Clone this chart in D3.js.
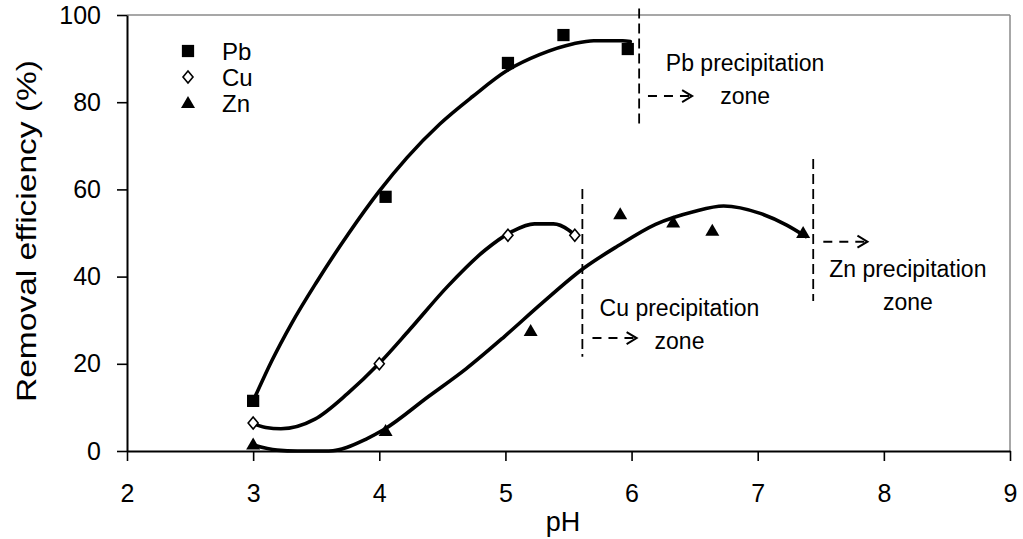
<!DOCTYPE html>
<html>
<head>
<meta charset="utf-8">
<script src="https://cdn.jsdelivr.net/npm/d3@7"></script>
<style>
  html, body { margin: 0; padding: 0; background: #fff; }
  svg { display: block; font-family: "Liberation Sans", Arial, sans-serif; }
</style>
</head>
<body>
<svg id="chart" width="1023" height="539"></svg>
<script>
// Axis ticks
const xTicks = [2, 3, 4, 5, 6, 7, 8, 9];
const yTicks = [0, 20, 40, 60, 80, 100];

// Measured removal efficiency (%) vs pH
const pbPH = [3.0, 4.05, 5.02, 5.46, 5.97];
const pbVal = [11.5, 58.3, 89.0, 95.4, 92.2];
const cuPH = [3.0, 4.0, 5.02, 5.55];
const cuVal = [6.4, 20.0, 49.5, 49.5];
const znPH = [3.0, 4.05, 5.20, 5.91, 6.33, 6.64, 7.36];
const znVal = [1.5, 4.6, 27.5, 54.3, 52.4, 50.5, 50.0];

// Smoothed trend curves (pH, %)
const pbTrend = [[3.01, 12.1], [3.15, 20.8], [3.3, 29.0], [3.5, 38.6], [3.75, 49.6], [4.0, 59.6],
  [4.22, 67.3], [4.48, 75.0], [4.74, 81.3], [5.01, 87.2], [5.27, 90.9], [5.54, 93.4],
  [5.70, 94.1], [5.93, 94.1], [5.99, 93.9]];
const cuTrend = [[3.0, 6.3], [3.1, 5.4], [3.22, 5.1], [3.49, 7.3], [3.75, 13.2], [4.0, 20.1],
  [4.24, 27.8], [4.54, 37.7], [4.84, 46.1], [5.05, 50.3], [5.23, 52.1], [5.38, 52.1],
  [5.50, 50.7], [5.56, 49.2]];
const znTrend = [[3.0, 1.4], [3.19, 0.2], [3.35, 0], [3.6, 0], [3.9, 2.8], [4.03, 4.8],
  [4.39, 12.5], [4.69, 18.9], [4.99, 26.2], [5.29, 33.9], [5.62, 41.9], [5.89, 47.0],
  [6.19, 52.0], [6.49, 54.9], [6.73, 56.2], [7.02, 54.5], [7.23, 51.8], [7.38, 49.2]];

// Precipitation thresholds: pH, dashed span (%), arrow span, label lines
const zoneLabels = ["Pb precipitation", "Cu precipitation", "Zn precipitation"];
const zonePH = [6.06, 5.61, 7.44];
const zoneTop = [101.5, 60.1, 67.0];
const zoneBottom = [74.8, 21.6, 34.4];
const arrowFrom = [6.13, 5.69, 7.52];
const arrowTo = [6.48, 6.04, 7.87];
const arrowVal = [81.4, 25.9, 48.0];
const labelPH = [6.90, 6.38, 8.19];
const labelVal = [87.2, 31.0, 39.8];

const svg = d3.select("#chart");
const x = d3.scaleLinear().domain([2, 9]).range([127, 1010]);
const y = d3.scaleLinear().domain([0, 100]).range([451, 15]);

// Frame: grey top and right edges
svg.append("line").attr("x1", x(2)).attr("x2", x(9)).attr("y1", y(100)).attr("y2", y(100))
  .attr("stroke", "#8a8a8a").attr("stroke-width", 1.5);
svg.append("line").attr("x1", x(9)).attr("x2", x(9)).attr("y1", y(100)).attr("y2", y(0))
  .attr("stroke", "#8a8a8a").attr("stroke-width", 1.5);

// Axes
const xAxis = svg.append("g").attr("transform", `translate(0,${y(0)})`)
  .call(d3.axisBottom(x).tickValues(xTicks).tickSize(10).tickSizeOuter(0).tickFormat(d3.format("d")));
const yAxis = svg.append("g").attr("transform", `translate(${x(2)},0)`)
  .call(d3.axisLeft(y).tickValues(yTicks).tickSize(10).tickPadding(16).tickSizeOuter(0).tickFormat(d3.format("d")));
[xAxis, yAxis].forEach(a => {
  a.select(".domain").attr("stroke", "#000").attr("stroke-width", 2);
  a.selectAll(".tick line").attr("stroke", "#000").attr("stroke-width", 1.6);
  a.selectAll(".tick text").attr("fill", "#000").attr("font-size", 25)
    .attr("font-family", "Liberation Sans, Arial, sans-serif");
});
xAxis.selectAll(".tick text").attr("dy", "0.71em").attr("y", 33);

// Axis titles
svg.append("text").attr("x", 563).attr("y", 531).attr("text-anchor", "middle")
  .attr("font-size", 27).text("pH");
svg.append("text").attr("transform", `translate(36,231) rotate(-90)`)
  .attr("text-anchor", "middle").attr("font-size", 27)
  .attr("textLength", 342).attr("lengthAdjust", "spacingAndGlyphs")
  .text("Removal efficiency (%)");

// Trend curves
const line = d3.line().x(d => x(d[0])).y(d => y(d[1])).curve(d3.curveMonotoneX);
[pbTrend, cuTrend, znTrend].forEach(t => {
  svg.append("path").attr("d", line(t)).attr("fill", "none").attr("stroke", "#000")
    .attr("stroke-width", 3.6).attr("stroke-linejoin", "round").attr("stroke-linecap", "round");
});

// Markers
const square = d3.symbol().type(d3.symbolSquare).size(150);
const diamond = "M0,-6L5,0L0,6L-5,0Z";
const tri = "M0,-7L7,5L-7,5Z";
pbPH.forEach((p, i) => svg.append("path").attr("d", square())
  .attr("transform", `translate(${x(p)},${y(pbVal[i])})`).attr("fill", "#000"));
cuPH.forEach((p, i) => svg.append("path").attr("d", diamond)
  .attr("transform", `translate(${x(p)},${y(cuVal[i])})`).attr("fill", "#fff").attr("stroke", "#000").attr("stroke-width", 1.6));
znPH.forEach((p, i) => svg.append("path").attr("d", tri)
  .attr("transform", `translate(${x(p)},${y(znVal[i])})`).attr("fill", "#000"));

// Precipitation zones
zonePH.forEach((p, i) => {
  svg.append("line").attr("x1", x(p)).attr("x2", x(p)).attr("y1", y(zoneTop[i])).attr("y2", y(zoneBottom[i]))
    .attr("stroke", "#000").attr("stroke-width", 1.8).attr("stroke-dasharray", "10,5");
  const ay = y(arrowVal[i]);
  const x1 = x(arrowFrom[i]), x2 = x(arrowTo[i]);
  svg.append("line").attr("x1", x1).attr("x2", x2 - 2).attr("y1", ay).attr("y2", ay)
    .attr("stroke", "#000").attr("stroke-width", 2).attr("stroke-dasharray", "9,7");
  svg.append("path").attr("d", `M${x2 - 10},${ay - 6}L${x2},${ay}L${x2 - 10},${ay + 6}`)
    .attr("fill", "none").attr("stroke", "#000").attr("stroke-width", 2);
  const t = svg.append("text").attr("text-anchor", "middle").attr("font-size", 23)
    .attr("x", x(labelPH[i])).attr("y", y(labelVal[i]));
  t.append("tspan").attr("x", x(labelPH[i])).text(zoneLabels[i]);
  t.append("tspan").attr("x", x(labelPH[i])).attr("dy", 33).text("zone");
});

// Legend
const legend = [["Pb", square()], ["Cu", diamond], ["Zn", tri]];
legend.forEach((l, i) => {
  const ly = 51 + i * 26;
  const m = svg.append("path").attr("d", l[1]).attr("transform", `translate(188,${ly})`);
  if (l[0] === "Cu") m.attr("fill", "#fff").attr("stroke", "#000").attr("stroke-width", 1.6);
  else m.attr("fill", "#000");
  svg.append("text").attr("x", 222).attr("y", ly + 9).attr("font-size", 24).text(l[0]);
});
</script>
</body>
</html>
